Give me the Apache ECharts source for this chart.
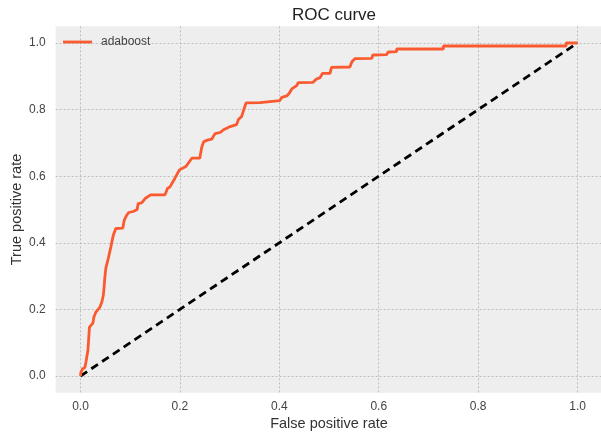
<!DOCTYPE html>
<html>
<head>
<meta charset="utf-8">
<script src="https://cdn.jsdelivr.net/npm/echarts@6/dist/echarts.min.js"></script>
<style>html,body{margin:0;padding:0;background:#fff}#c{width:601px;height:436px}</style>
</head>
<body>
<div id="c"></div>
<script>
const seriesName = 'adaboost';
const fpr = [0, 0.001, 0.004, 0.009, 0.011, 0.015, 0.018, 0.021, 0.025, 0.027, 0.031, 0.039, 0.043, 0.046, 0.047, 0.049, 0.051, 0.054, 0.056, 0.061, 0.066, 0.071, 0.085, 0.088, 0.093, 0.097, 0.106, 0.114, 0.116, 0.123, 0.130, 0.141, 0.170, 0.175, 0.180, 0.190, 0.199, 0.212, 0.224, 0.240, 0.244, 0.248, 0.257, 0.264, 0.267, 0.271, 0.282, 0.287, 0.301, 0.314, 0.318, 0.324, 0.333, 0.361, 0.365, 0.401, 0.405, 0.415, 0.420, 0.425, 0.435, 0.438, 0.468, 0.474, 0.482, 0.487, 0.502, 0.505, 0.542, 0.546, 0.552, 0.586, 0.588, 0.616, 0.619, 0.636, 0.636, 0.730, 0.730, 0.977, 0.977, 1.0];
const tpr = [0, 0.012, 0.021, 0.026, 0.042, 0.078, 0.147, 0.153, 0.159, 0.177, 0.192, 0.207, 0.222, 0.243, 0.258, 0.297, 0.324, 0.328, 0.354, 0.387, 0.423, 0.443, 0.444, 0.468, 0.483, 0.491, 0.494, 0.500, 0.518, 0.520, 0.533, 0.544, 0.544, 0.563, 0.568, 0.594, 0.619, 0.629, 0.654, 0.654, 0.688, 0.704, 0.709, 0.711, 0.719, 0.728, 0.732, 0.739, 0.749, 0.755, 0.771, 0.779, 0.820, 0.821, 0.827, 0.827, 0.837, 0.841, 0.849, 0.862, 0.872, 0.881, 0.882, 0.891, 0.896, 0.909, 0.909, 0.927, 0.928, 0.944, 0.953, 0.954, 0.964, 0.965, 0.973, 0.974, 0.982, 0.982, 0.991, 0.991, 1.0, 1.0];
const diagX = [0, 1];
const diagY = [0, 1];
const tickValues = [0, 0.2, 0.4, 0.6, 0.8, 1.0];

const font = 'Liberation Sans, Arial, sans-serif';
const chart = echarts.init(document.getElementById('c'), null, {renderer: 'canvas'});
const gridLine = {show: true, lineStyle: {color: '#b2b2b2', width: 0.8, type: [2, 2]}};
function axisCommon(name, gap, rotate, margin) {
  return {
    type: 'value', min: -0.05, max: 1.05,
    name: name, nameLocation: 'middle', nameGap: gap, nameRotate: rotate, nameMoveOverlap: false,
    nameTextStyle: {fontFamily: font, fontSize: 14.5, color: '#333'},
    axisLine: {show: false},
    axisTick: {show: false, customValues: tickValues},
    axisLabel: {customValues: tickValues, fontFamily: font, fontSize: 12, color: '#444', margin: margin,
      formatter: v => v.toFixed(1)},
    splitLine: gridLine
  };
}
chart.setOption({
  animation: false,
  backgroundColor: '#ffffff',
  title: {text: 'ROC curve', left: 329, textAlign: 'center', top: 2,
    textStyle: {fontFamily: font, fontSize: 17, fontWeight: 'normal', color: '#222'}},
  legend: {left: 63, top: 36, padding: 0, itemWidth: 29, itemHeight: 2.8,
    data: [{name: seriesName, icon: 'rect'}],
    textStyle: {fontFamily: font, fontSize: 12, color: '#444', padding: [0, 0, 0, 4]}},
  grid: {left: 55.65, top: 26.35, right: -1.4, bottom: 43.35, show: true,
    outerBoundsMode: 'none', containLabel: false,
    backgroundColor: '#eeeeee', borderWidth: 0},
  xAxis: axisCommon('False positive rate', 24, 0, 8),
  yAxis: axisCommon('True positive rate', 31, 90, 10),
  series: [
    {name: seriesName, type: 'line', data: fpr.map((x, i) => [x, tpr[i]]),
      showSymbol: false, symbol: 'none', z: 3,
      lineStyle: {color: '#fa5a30', width: 2.8}, itemStyle: {color: '#fa5a30'}},
    {name: 'diag', type: 'line', data: diagX.map((x, i) => [x, diagY[i]]),
      showSymbol: false, symbol: 'none', z: 2,
      lineStyle: {color: '#000000', width: 2.8, type: [8, 5]}}
  ]
});
</script>
</body>
</html>
